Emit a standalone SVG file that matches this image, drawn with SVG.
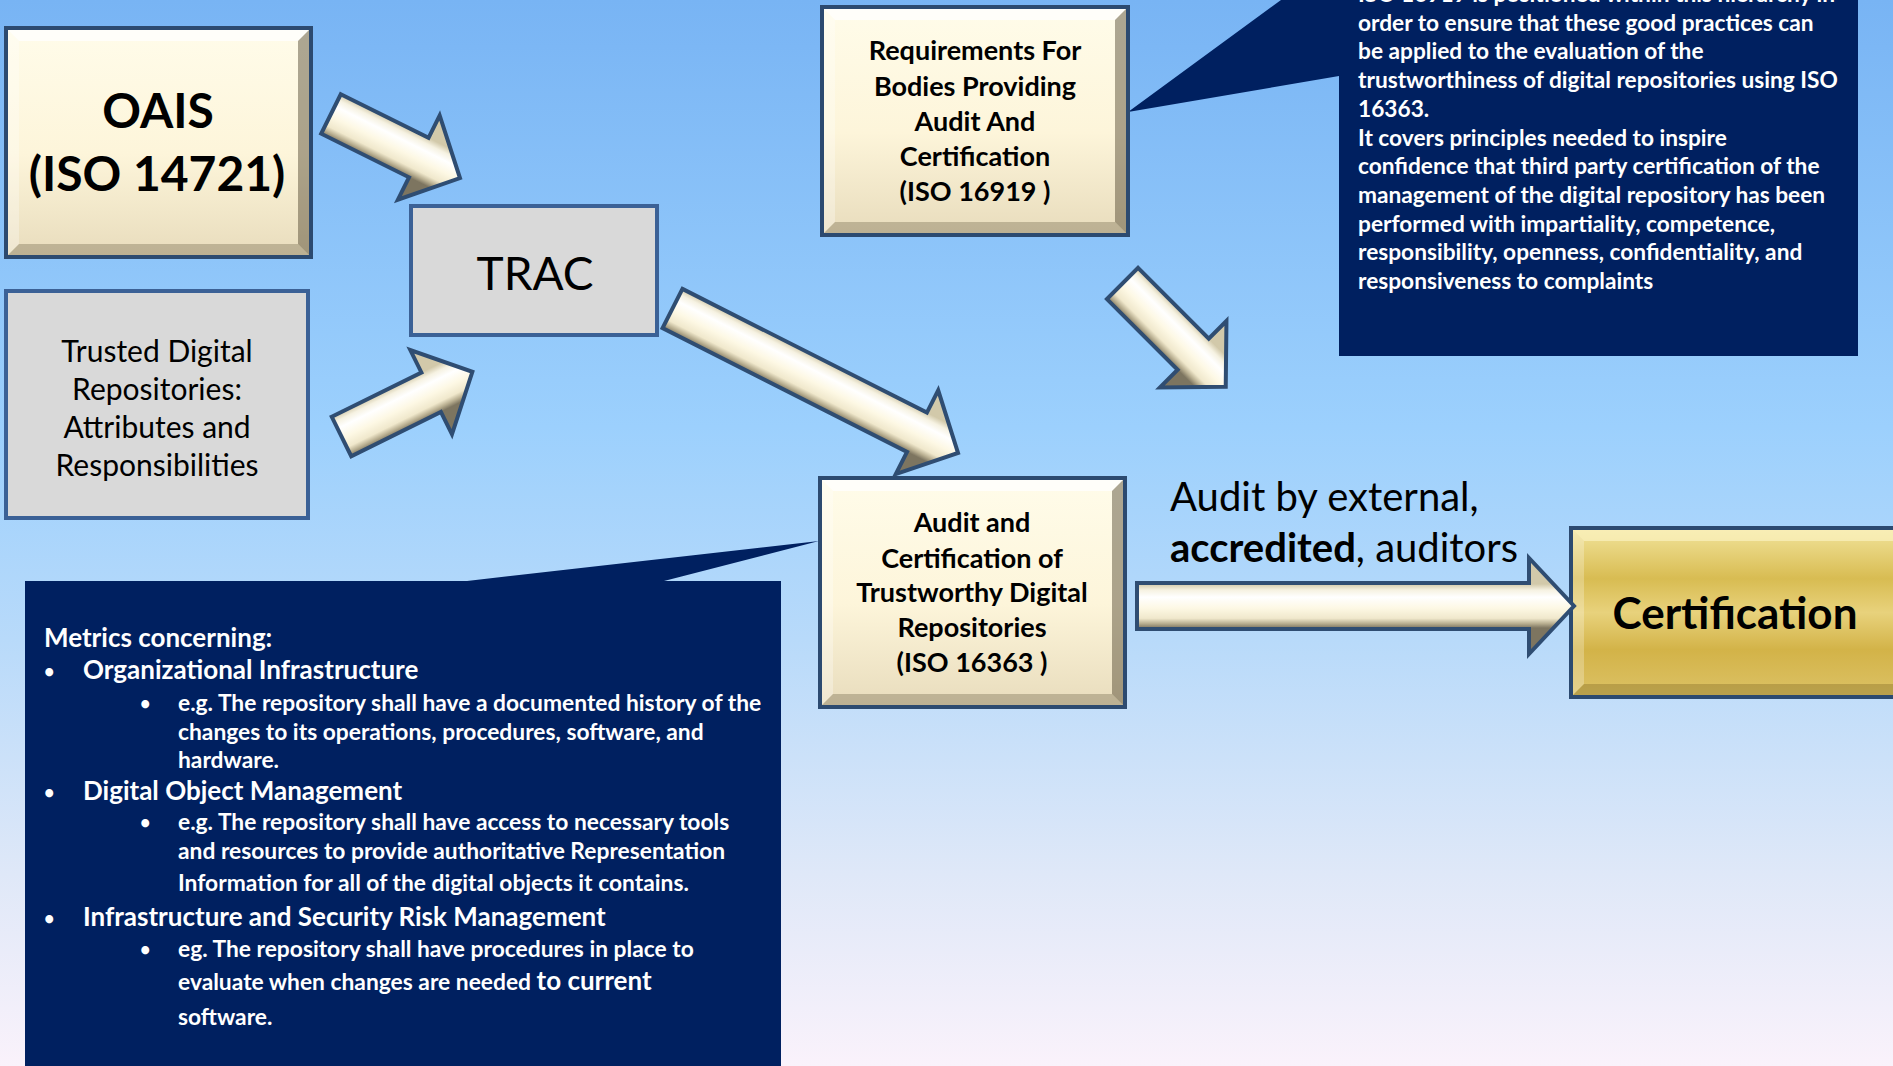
<svg xmlns="http://www.w3.org/2000/svg" width="1893" height="1066" viewBox="0 0 1893 1066">
<defs>
<linearGradient id="bg" x1="0" y1="0" x2="0" y2="1">
<stop offset="0" stop-color="#78b4f4"/><stop offset="0.4" stop-color="#9cd0fd"/><stop offset="0.6" stop-color="#b8dafa"/><stop offset="0.82" stop-color="#dfe8f8"/><stop offset="1" stop-color="#faf2fb"/>
</linearGradient>
<linearGradient id="cream" x1="0" y1="0" x2="0" y2="1">
<stop offset="0" stop-color="#fffcea"/><stop offset="0.55" stop-color="#fdf5da"/><stop offset="1" stop-color="#e8dcbc"/>
</linearGradient>
<linearGradient id="gold" x1="0" y1="0" x2="0" y2="1">
<stop offset="0" stop-color="#f2e49c"/><stop offset="0.3" stop-color="#d8bc52"/><stop offset="0.5" stop-color="#e8d27c"/><stop offset="0.72" stop-color="#d3b348"/><stop offset="1" stop-color="#dcc266"/>
</linearGradient>
<linearGradient id="arr" gradientUnits="userSpaceOnUse" x1="0" y1="-22" x2="0" y2="22">
<stop offset="0" stop-color="#d2c9aa"/><stop offset="0.14" stop-color="#f6f2e2"/><stop offset="0.3" stop-color="#ffffff"/><stop offset="0.55" stop-color="#fdf8e4"/><stop offset="0.78" stop-color="#f0e8cc"/><stop offset="0.9" stop-color="#b8ae90"/><stop offset="1" stop-color="#7d7560"/>
</linearGradient>
<style>
.bg{fill:url(#bg)}
.bx{stroke:#2c4a70;stroke-width:4}
.cr{fill:url(#cream)}
.gd{fill:url(#gold)}
.gr{fill:#d9d9d9;stroke:#3b6196;stroke-width:4}
.bt{fill:#ffffff;opacity:.75}
.bl{fill:#ffffff;opacity:.3}
.br{fill:#4a3f28;opacity:.45}
.bb{fill:#4a3f28;opacity:.28}
.call{fill:#002060}
.ar{fill:url(#arr);stroke:#2f4d72;stroke-width:4;stroke-linejoin:miter}
text{font-family:Lato,'Liberation Sans',sans-serif;fill:#000}
.b{font-weight:700}
.w{fill:#fff}
.m{text-anchor:middle}
.h{font-size:26px}
.s{font-size:22.8px}
.d{font-size:18px}
</style>
</defs>
<rect class="bg" x="0" y="0" width="1893" height="1066"/>

<g id="callout-iso16919">
<path class="call" d="M1281,0 H1858 V356 H1339 V76 L1128,112 Z"/>
<text class="b w" font-size="22.7" x="1358">
<tspan x="1358" y="2">ISO 16919 is positioned within this hierarchy in</tspan>
<tspan x="1358" y="31">order to ensure that these good practices can</tspan>
<tspan x="1358" y="59">be applied to the evaluation of the</tspan>
<tspan x="1358" y="88">trustworthiness of digital repositories using ISO</tspan>
<tspan x="1358" y="117">16363.</tspan>
<tspan x="1358" y="146">It covers principles needed to inspire</tspan>
<tspan x="1358" y="174">confidence that third party certification of the</tspan>
<tspan x="1358" y="203">management of the digital repository has been</tspan>
<tspan x="1358" y="232">performed with impartiality, competence,</tspan>
<tspan x="1358" y="260">responsibility, openness, confidentiality, and</tspan>
<tspan x="1358" y="289">responsiveness to complaints</tspan>
</text>
</g>

<g id="callout-metrics">
<path class="call" d="M25,581 H467 L819,541 L664,581 H781 V1066 H25 Z"/>
<text class="b w h" x="44" y="647">Metrics concerning:</text>
<text class="b w d" x="44" y="678">•</text>
<text class="b w h" x="83" y="679">Organizational Infrastructure</text>
<text class="b w d" x="140" y="710">•</text>
<text class="b w s" x="178" y="711">e.g. The repository shall have a documented history of the</text>
<text class="b w s" x="178" y="740">changes to its operations, procedures, software, and</text>
<text class="b w s" x="178" y="768">hardware.</text>
<text class="b w d" x="44" y="799">•</text>
<text class="b w h" x="83" y="800">Digital Object Management</text>
<text class="b w d" x="140" y="829">•</text>
<text class="b w s" x="178" y="830">e.g. The repository shall have access to necessary tools</text>
<text class="b w s" x="178" y="859">and resources to provide authoritative Representation</text>
<text class="b w s" x="178" y="891">Information for all of the digital objects it contains.</text>
<text class="b w d" x="44" y="925">•</text>
<text class="b w h" x="83" y="926">Infrastructure and Security Risk Management</text>
<text class="b w d" x="140" y="956">•</text>
<text class="b w s" x="178" y="957">eg. The repository shall have procedures in place to</text>
<text class="b w s" x="178" y="990">evaluate when changes are needed <tspan font-size="26">to current</tspan></text>
<text class="b w s" x="178" y="1025">software.</text>
</g>

<g id="node-oais">
<rect class="cr bx" x="6" y="28" width="305" height="229"/>
<polygon class="bt" points="8,30 309,30 298,41 19,41"/>
<polygon class="bl" points="8,30 19,41 19,244 8,255"/>
<polygon class="br" points="309,30 309,255 298,244 298,41"/>
<polygon class="bb" points="8,255 309,255 298,244 19,244"/>
<text class="b m" font-size="48" x="158" y="128">OAIS</text>
<text class="b m" font-size="48" x="157" y="191">(ISO 14721)</text>
</g>

<g id="node-trusted">
<rect class="gr" x="6" y="291" width="302" height="227"/>
<text class="m" font-size="30" x="157" y="362">Trusted Digital</text>
<text class="m" font-size="30" x="157" y="400">Repositories:</text>
<text class="m" font-size="30" x="157" y="438">Attributes and</text>
<text class="m" font-size="30" x="157" y="476">Responsibilities</text>
</g>

<g id="node-trac">
<rect class="gr" x="411" y="206" width="246" height="129"/>
<text class="m" font-size="46" x="535" y="290">TRAC</text>
</g>

<g id="node-iso16919">
<rect class="cr bx" x="822" y="7" width="306" height="228"/>
<polygon class="bt" points="824,9 1126,9 1115,20 835,20"/>
<polygon class="bl" points="824,9 835,20 835,222 824,233"/>
<polygon class="br" points="1126,9 1126,233 1115,222 1115,20"/>
<polygon class="bb" points="824,233 1126,233 1115,222 835,222"/>
<text class="b m" font-size="27" x="975" y="60">Requirements For</text>
<text class="b m" font-size="27" x="975" y="96">Bodies Providing</text>
<text class="b m" font-size="27" x="975" y="131">Audit And</text>
<text class="b m" font-size="27" x="975" y="166">Certification</text>
<text class="b m" font-size="27" x="975" y="201">(ISO 16919 )</text>
</g>

<g id="node-iso16363">
<rect class="cr bx" x="820" y="478" width="305" height="229"/>
<polygon class="bt" points="822,480 1123,480 1112,491 833,491"/>
<polygon class="bl" points="822,480 833,491 833,694 822,705"/>
<polygon class="br" points="1123,480 1123,705 1112,694 1112,491"/>
<polygon class="bb" points="822,705 1123,705 1112,694 833,694"/>
<text class="b m" font-size="27" x="972" y="532">Audit and</text>
<text class="b m" font-size="27" x="972" y="568">Certification of</text>
<text class="b m" font-size="27" x="972" y="602">Trustworthy Digital</text>
<text class="b m" font-size="27" x="972" y="637">Repositories</text>
<text class="b m" font-size="27" x="972" y="672">(ISO 16363 )</text>
</g>

<g id="node-certification">
<rect class="gd bx" x="1571" y="528" width="340" height="169"/>
<polygon fill="#fbf2c0" opacity=".7" points="1573,530 1909,530 1909,541 1584,541"/>
<polygon fill="#fff" opacity=".25" points="1573,530 1584,541 1584,684 1573,695"/>
<polygon fill="#7a6420" opacity=".35" points="1573,695 1909,695 1909,684 1584,684"/>
<text class="b m" font-size="44" x="1735" y="629">Certification</text>
</g>

<g id="label-audit">
<text font-size="40" x="1170" y="511">Audit by external,</text>
<text font-size="40" x="1170" y="562"><tspan font-weight="700">accredited</tspan>, auditors</text>
</g>

<g id="connectors">
<polygon class="ar" transform="translate(331,114) rotate(26.4)" points="0,-22 98,-22 98,-47 144,0 98,47 98,22 0,22"/>
<polygon class="ar" transform="translate(341.5,436.5) rotate(-26.3)" points="0,-22 100,-22 100,-47 146,0 100,47 100,22 0,22"/>
<polygon class="ar" transform="translate(672.5,308.5) rotate(26.84)" points="0,-22 274,-22 274,-47 320,0 274,47 274,22 0,22"/>
<polygon class="ar" transform="translate(1122.5,283.5) rotate(45)" points="0,-22 100,-22 100,-47 146,0 100,47 100,22 0,22"/>
<polygon class="ar" transform="translate(1137,606)" points="0,-23 392,-23 392,-48 437,0 392,48 392,23 0,23"/>
</g>
</svg>
